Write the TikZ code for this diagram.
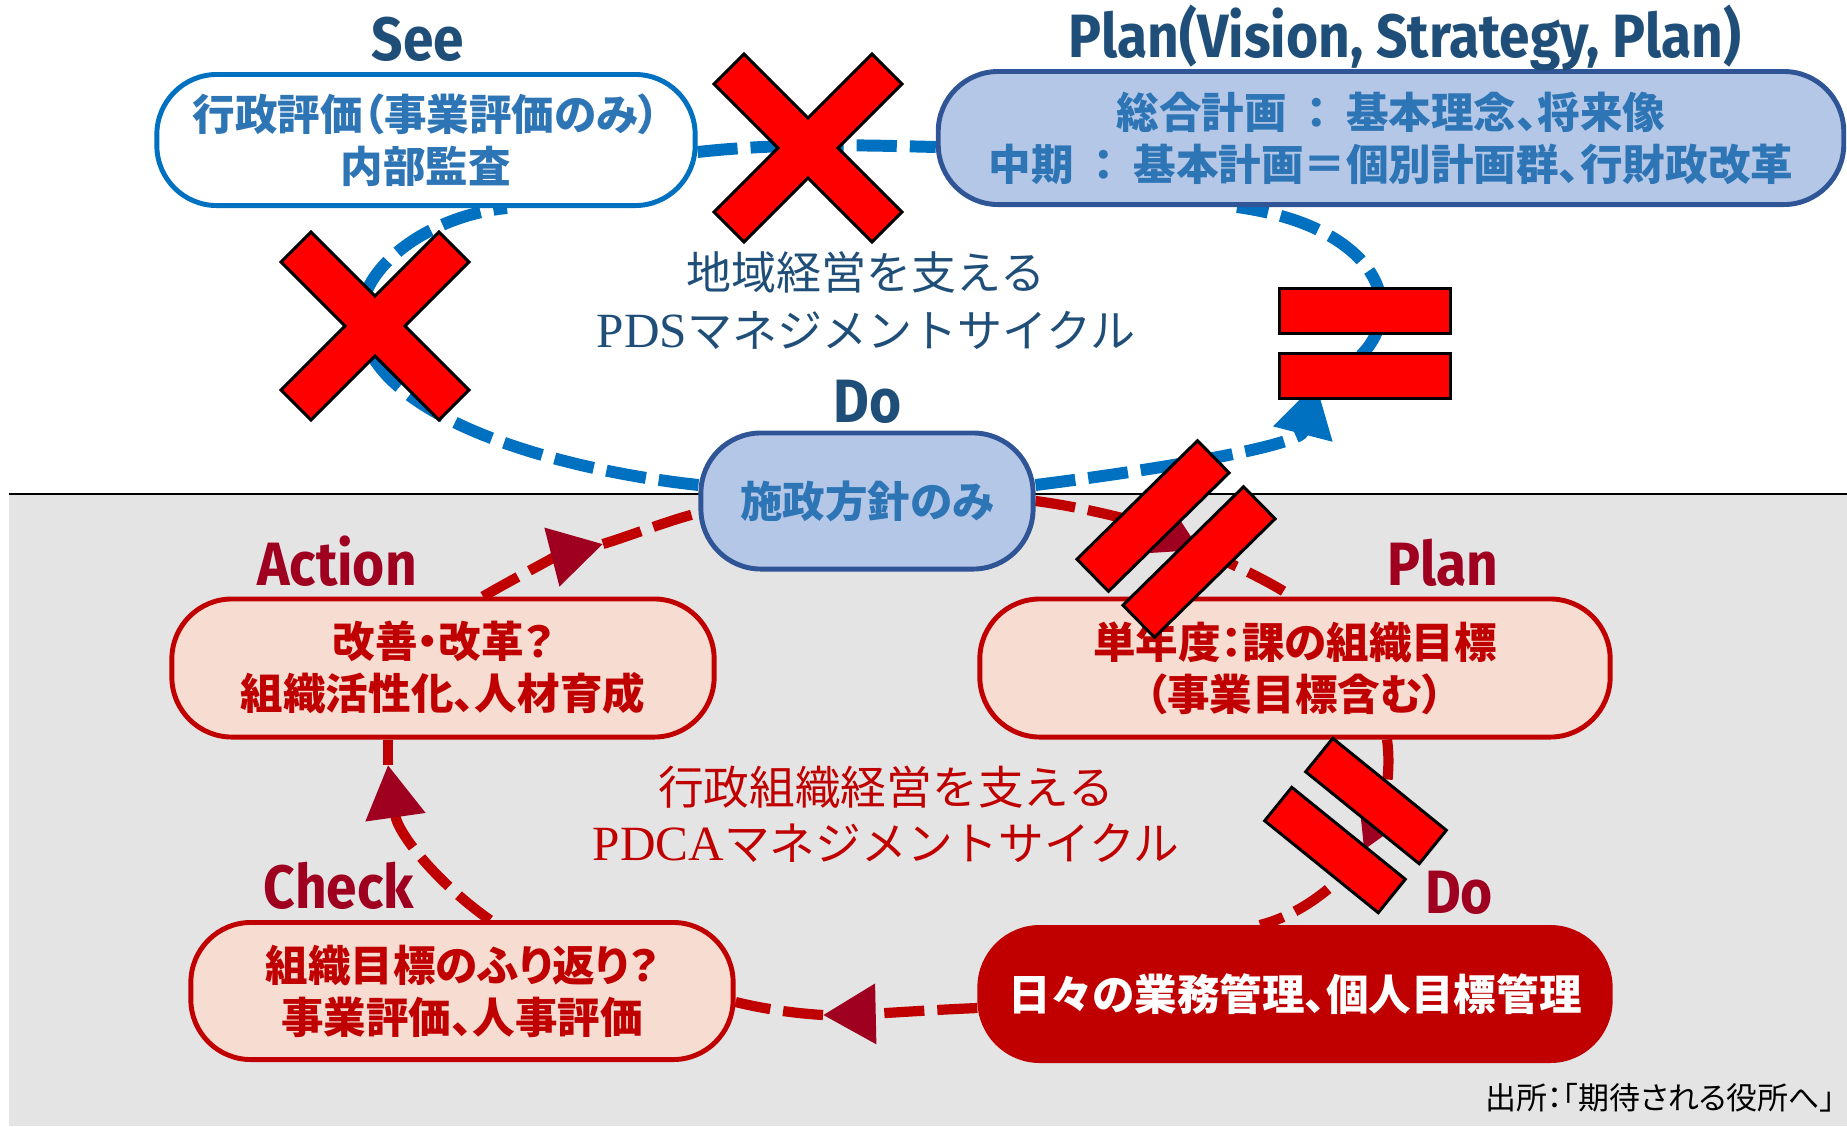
\documentclass[tikz,border=0pt]{standalone}
\usepackage{fontspec}
\usetikzlibrary{arrows.meta,calc}
\newfontfamily\jp{Noto Sans CJK JP}[RawFeature=+palt]
\newfontfamily\jpn{Noto Sans CJK JP}
\newfontfamily\lserif{Liberation Serif}
\newfontfamily\lab{Fira Sans}[FakeStretch=0.9]
\definecolor{lineblue}{RGB}{0,112,192}
\definecolor{dblue}{RGB}{31,78,121}
\definecolor{tblue}{RGB}{46,117,182}
\definecolor{nfill}{RGB}{180,199,231}
\definecolor{nborder}{RGB}{47,85,151}
\definecolor{myred}{RGB}{192,0,0}
\definecolor{arrred}{RGB}{160,0,32}
\definecolor{pink}{RGB}{247,220,210}
\definecolor{bggray}{RGB}{228,228,228}
\definecolor{xred}{RGB}{255,0,0}
\pgfdeclarelayer{bg}
\pgfdeclarelayer{lines}
\pgfsetlayers{bg,lines,main}
\tikzset{
  box/.style={rectangle, rounded corners=0.6cm, line width=1.4pt, inner sep=0pt, align=center,
    font=\jp\bfseries\fontsize{12.1}{14.8}\selectfont},
  bluebox/.style={box, draw=nborder, fill=nfill, text=tblue},
  whitebox/.style={box, draw=lineblue, fill=white, text=tblue},
  pinkbox/.style={box, draw=myred, fill=pink, text=myred},
  redbox/.style={box, draw=myred, fill=myred, text=white},
  lblb/.style={anchor=base, text=dblue, inner sep=0pt, font=\lab\bfseries\fontsize{17.4}{20}\selectfont},
  lblr/.style={anchor=base, text=arrred, inner sep=0pt, font=\lab\bfseries\fontsize{17.4}{20}\selectfont},
  bdash/.style={draw=lineblue, line width=3.4pt, dash pattern=on 11.4pt off 3.7pt},
  rdash/.style={draw=myred, line width=2.9pt, dash pattern=on 11.4pt off 3.7pt},
  btip/.style={-{Triangle[length=15pt,width=16.5pt,color=lineblue]}},
  rtip/.style={-{Triangle[length=15pt,width=16.5pt,color=arrred]}},
  xmark/.style={draw=black, fill=xred, line width=0.85pt, line join=miter},
  bar/.style={draw=black, fill=xred, line width=0.85pt, inner sep=0pt,
    minimum width=1.69cm, minimum height=0.45cm},
}
\begin{document}
\begin{tikzpicture}[x=0.01cm, y=-0.01cm]
\useasboundingbox (0,0) rectangle (1847,1126);
\begin{pgfonlayer}{bg}
  \fill[bggray] (9,495) rectangle (1847,1126);
  \draw[black, line width=0.6pt] (9,494) -- (1847,494);
\end{pgfonlayer}

% nodes
\node[whitebox, minimum width=5.38cm, minimum height=1.31cm] (See) at (426,140)
  {行政評価（事業評価のみ）\\内部監査};
\node[bluebox, minimum width=9.05cm, minimum height=1.33cm] (PlanT) at (1391,138)
  {総合計画\hspace{0.45em}：\hspace{0.45em}基本理念、将来像\\中期\hspace{0.45em}：\hspace{0.45em}基本計画＝個別計画群、行財政改革};
\node[bluebox, minimum width=3.32cm, minimum height=1.36cm] (DoT) at (867,501) {施政方針のみ};
\node[pinkbox, minimum width=5.42cm, minimum height=1.38cm] (Action) at (443,668)
  {改善・改革？\\組織活性化、人材育成};
\node[pinkbox, minimum width=6.30cm, minimum height=1.38cm] (PlanB) at (1295,668)
  {単年度：課の組織目標\\（事業目標含む）};
\node[pinkbox, minimum width=5.42cm, minimum height=1.37cm] (Check) at (462,991)
  {組織目標のふり返り？\\事業評価、人事評価};
\node[redbox, minimum width=6.30cm, minimum height=1.33cm] (DoB) at (1295,994)
  {日々の業務管理、個人目標管理};

% labels
\node[lblb] (lSee) at (418,60) {See};
\node[lblb] (lPlanT) at (1405,57) {Plan(Vision, Strategy, Plan)};
\node[lblb] (lDoT) at (868,422) {Do};
\node[lblr] (lAction) at (337,585) {Action};
\node[lblr] (lPlanB) at (1443,585) {Plan};
\node[lblr] (lCheck) at (339,908) {Check};
\node[lblr] (lDoB) at (1459,913) {Do};

% centre texts
\node[text=dblue, align=center, inner sep=0pt, font=\jpn\fontsize{12.8}{16.5}\selectfont] (pds) at (866,301)
  {地域経営を支える\\{\lserif\fontsize{14}{16.5}\selectfont PDS}マネジメントサイクル};
\node[text=myred, align=center, inner sep=0pt, font=\jpn\fontsize{13}{16}\selectfont] (pdca) at (886,814)
  {行政組織経営を支える\\{\lserif\fontsize{14}{16}\selectfont PDCA}マネジメントサイクル};
\node[anchor=east, inner sep=0pt, font=\jp\fontsize{8.8}{10}\selectfont] (src) at (1836,1098)
  {出所：「期待される役所へ」};

% connectors
\begin{pgfonlayer}{lines}
  % blue PDS cycle
  \draw[bdash] ($(See.east)+(0,12)$) .. controls (780,143) and (860,145) .. ($(PlanT.west)+(0,9)$);
  \coordinate (bt) at (1316,383);
  \draw[bdash, btip] ($(DoT.east)+(0,-16)$) .. controls (1170,468) and (1300,445) .. (bt);
  \draw[bdash] (bt) .. controls (1420,345) and (1405,230) .. ($(PlanT.south)+(-154,0)$);
  \coordinate (bl) at (362,330);
  \draw[bdash] ($(DoT.west)+(0,-16)$) .. controls (560,470) and (380,420) .. (bl)
     .. controls (350,270) and (430,215) .. ($(See.south)+(81,0)$);
  % red PDCA cycle
  \coordinate (r1) at (603,544);
  \draw[rdash, rtip] ($(Action.north)+(40,0)$) .. controls (520,575) and (560,555) .. (r1);
  \draw[rdash] (r1) .. controls (635,534) and (670,520) .. ($(DoT.west)+(0,12)$);
  \coordinate (r2) at (1200,550);
  \draw[rdash, rtip] (DoT.east) .. controls (1090,508) and (1150,525) .. (r2);
  \draw[rdash] (r2) .. controls (1235,565) and (1270,582) .. ($(PlanB.north)+(-3,0)$);
  \coordinate (r3) at (1364,850);
  \draw[rdash, rtip] ($(PlanB.south)+(92,0)$) .. controls (1392,775) and (1382,810) .. (r3);
  \draw[rdash] (r3) .. controls (1340,885) and (1300,915) .. ($(DoB.north)+(-35,0)$);
  \coordinate (r4) at (823,1015);
  \draw[rdash, rtip] ($(DoB.west)+(0,14)$) .. controls (930,1010) and (870,1014) .. (r4);
  \draw[rdash] (r4) .. controls (790,1013) and (760,1008) .. ($(Check.east)+(0,11)$);
  \coordinate (r5) at (388,765);
  \draw[rdash, rtip] ($(Check.north)+(28,0)$) .. controls (440,885) and (398,835) .. (r5);
  \draw[rdash] (r5) -- ($(Action.south)+(-55,0)$);
\end{pgfonlayer}

% crosses
\filldraw[xmark, shift={(808,148)}] (-64,-94) -- (0,-30) -- (64,-94) -- (94,-64) -- (30,0) -- (94,64)
  -- (64,94) -- (0,30) -- (-64,94) -- (-94,64) -- (-30,0) -- (-94,-64) -- cycle;
\filldraw[xmark, shift={(375,326)}] (-64,-94) -- (0,-30) -- (64,-94) -- (94,-64) -- (30,0) -- (94,64)
  -- (64,94) -- (0,30) -- (-64,94) -- (-94,64) -- (-30,0) -- (-94,-64) -- cycle;

% break bars
\node[bar, minimum width=1.70cm] (eq1) at (1365,311) {};
\node[bar, minimum width=1.70cm] (eq2) at (1365,376) {};
\node[bar, rotate=44.5] (s1) at (1153,516) {};
\node[bar, rotate=44.5] (s2) at (1199,562) {};
\node[bar, rotate=-39, minimum width=1.46cm, minimum height=0.43cm] (s3) at (1376,801) {};
\node[bar, rotate=-39, minimum width=1.46cm, minimum height=0.43cm] (s4) at (1335,850) {};
\end{tikzpicture}
\end{document}
